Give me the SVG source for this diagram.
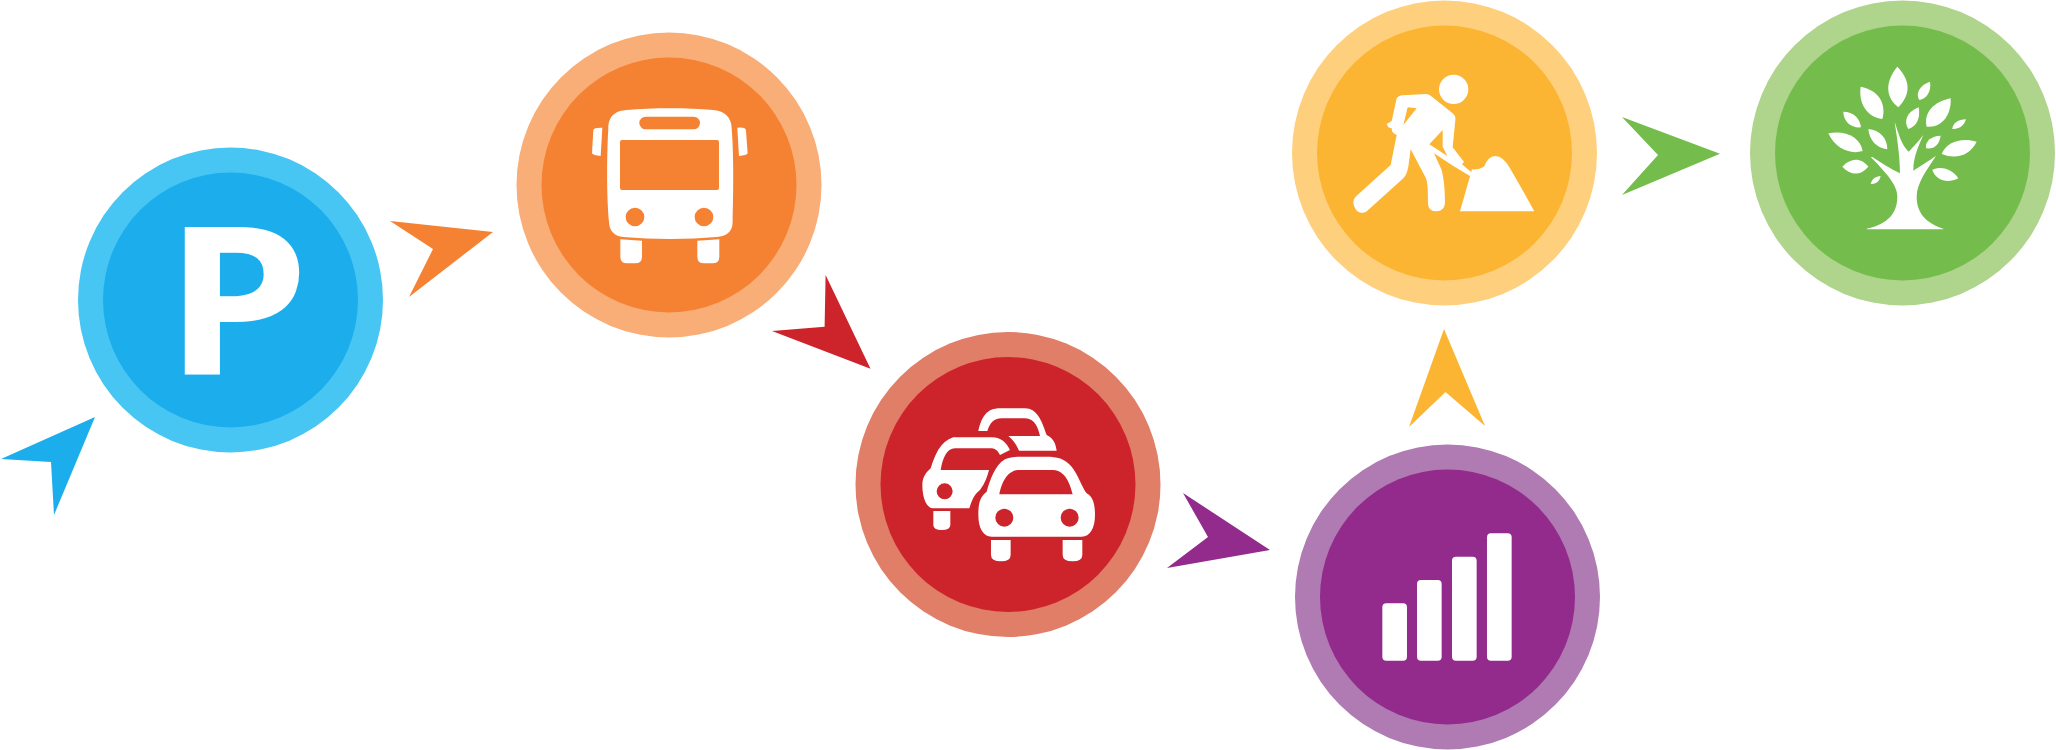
<svg xmlns="http://www.w3.org/2000/svg" width="2056" height="750" viewBox="0 0 2056 750">
<style>
.ic{fill:#fff;fill-rule:evenodd}
.bl{fill:#1CAEEC}.blo{fill:#48C6F3}
.or{fill:#F58232}.oro{fill:#F8AE76}
.re{fill:#CD242C}.reo{fill:#E07E68}
.pu{fill:#922B8C}.puo{fill:#B07AB2}
.ye{fill:#FCB532}.yeo{fill:#FED07E}
.gr{fill:#74BD4C}.gro{fill:#AFD48C}
text{font-family:"Open Sans","Liberation Sans",sans-serif;font-weight:700;font-size:207px;fill:#fff}
</style>
<rect width="2056" height="750" fill="#fff"/>
<g id="connectors">
<polygon class="bl" points="95,417 1,459 51,462 54,515"/>
<polygon class="or" points="390,221 493,232 409,297 433,249"/>
<polygon class="re" points="825.6,275 870.5,368.7 772,331 824.6,326.7"/>
<polygon class="pu" points="1183,493 1270,550 1167,568 1208,537"/>
<polygon class="ye" points="1444,329 1485,426 1445.5,392 1409,427"/>
<polygon class="gr" points="1622,117 1720,153.7 1622,195 1658,155"/>
</g>
<g id="node-parking">
<circle class="blo" cx="230.5" cy="300" r="152.5"/><circle class="bl" cx="230.5" cy="300" r="127.5"/>
<text transform="translate(164 375) scale(1.12 1)">P</text>
</g>
<g id="node-bus">
<circle class="oro" cx="669" cy="185" r="152.5"/><circle class="or" cx="669" cy="185" r="127.5"/>
<g transform="translate(580 90) scale(.3333)" class="ic">
<path d="M85,115 C85,75 110,62 140,60 C220,53 320,53 400,60 C430,62 455,80 455,115 C462,200 460,320 458,395 C458,425 440,438 410,441 C320,449 220,449 130,441 C105,438 88,425 87,395 C80,320 80,200 85,115 Z M126,150 H411 Q417,150 417,156 V294 Q417,300 411,300 H126 Q120,300 120,294 V156 Q120,150 126,150 Z M197,80 H341 A19,19 0 0 1 341,118 H197 A19,19 0 0 1 197,80 Z M137,381 A28,28 0 1 0 193,381 A28,28 0 1 0 137,381 Z M344,381 A28,28 0 1 0 400,381 A28,28 0 1 0 344,381 Z"/>
<path d="M40,120 Q42,112 67,113 L62,198 Q40,196 36,190 Z"/>
<path d="M472,113 Q498,110 498,122 L503,190 Q500,196 477,198 Z"/>
<path d="M121,448 L186,452 V500 Q186,520 165,520 H142 Q121,520 121,500 Z"/>
<path d="M352,452 L418,448 V500 Q418,520 397,520 H373 Q352,520 352,500 Z"/>
</g>
</g>
<g id="node-traffic">
<circle class="reo" cx="1008" cy="484.5" r="152.5"/><circle class="re" cx="1008" cy="484.5" r="127.5"/>
<g transform="translate(890 400) scale(.3333)" class="ic">
<path d="M265,345 C265,310 270,290 290,275 C300,240 315,195 345,178 C360,170 380,170 400,170 H470 C500,170 525,175 545,200 C565,225 575,260 590,280 C610,290 615,315 615,345 C615,385 600,410 575,410 H305 C280,410 265,385 265,345 Z M328,283 C335,250 350,212 385,210 H490 C525,212 540,250 548,283 Z M316,353 A27,27 0 1 0 370,353 A27,27 0 1 0 316,353 Z M512,353 A27,27 0 1 0 566,353 A27,27 0 1 0 512,353 Z"/>
<path d="M303,420 H362 V465 Q362,484 333,484 Q303,484 303,465 Z"/>
<path d="M518,420 H577 V465 Q577,484 548,484 Q518,484 518,465 Z"/>
<path d="M97,255 C97,235 105,220 122,205 C135,165 150,125 190,112 H305 C335,112 350,130 360,150 L330,165 C322,150 315,145 300,145 H195 C170,145 158,175 152,210 H297 C292,230 285,250 270,270 C250,285 245,305 238,325 H130 C110,325 97,295 97,255 Z M140,274 A24,24 0 1 0 188,274 A24,24 0 1 0 140,274 Z"/>
<path d="M130,333 H181 V375 Q181,390 155,390 Q130,390 130,375 Z"/>
<path d="M265,93 C275,50 290,25 330,25 H405 C440,25 455,60 470,105 C490,115 497,130 500,152 H387 C380,135 370,120 355,108 H450 C445,85 435,55 405,55 H335 C310,55 300,70 292,93 Z"/>
</g>
</g>
<g id="node-bars">
<circle class="puo" cx="1447.5" cy="597" r="152.5"/><circle class="pu" cx="1447.5" cy="597" r="127.5"/>
<g transform="translate(1360 520) scale(.3333)" class="ic">
<rect x="67" y="250" width="74" height="172" rx="12"/>
<rect x="171" y="180" width="74" height="242" rx="12"/>
<rect x="276" y="110" width="74" height="312" rx="12"/>
<rect x="381" y="40" width="74" height="382" rx="12"/>
</g>
</g>
<g id="node-works">
<circle class="yeo" cx="1444.5" cy="153" r="152.5"/><circle class="ye" cx="1444.5" cy="153" r="127.5"/>
<g transform="translate(1360 50) scale(.3333)" class="ic">
<circle cx="281" cy="118" r="44"/>
<path d="M110,145 Q115,137 128,136 L198,132 Q208,132 216,140 L278,190 Q288,198 286,210 L278,292 Q295,315 312,335 L306,343 L336,368 L330,378 L280,348 L222,310 L245,360 C252,390 255,420 255,460 Q252,485 228,484 Q205,485 204,460 C204,420 203,400 198,385 L152,298 L145,350 Q140,375 130,385 L22,482 C8,494 -10,488 -17,470 C-22,456 -20,446 -10,437 L92,345 L110,255 Q95,250 95,235 L85,232 L80,222 L95,213 Z M143,172 L170,175 L130,225 Z M248,240 L208,283 L262,318 L248,290 Z"/>
<path d="M300,484 L336,358 Q355,360 372,350 Q385,318 405,318 Q430,318 450,355 Q485,415 523,484 Z"/>
</g>
</g>
<g id="node-tree">
<circle class="gro" cx="1902.5" cy="153" r="152.5"/><circle class="gr" cx="1902.5" cy="153" r="127.5"/>
<g transform="translate(1810 50) scale(.3333)" class="ic">
<path d="M262,50 C225,95 225,140 265,172 C300,135 305,95 262,50Z"/>
<path d="M360,95 C330,105 315,130 328,150 C350,145 365,125 360,95Z"/>
<path d="M152,110 C145,160 170,200 217,207 C230,160 205,120 152,110Z"/>
<path d="M422,145 C370,155 340,190 350,230 C395,235 425,195 422,145Z"/>
<path d="M326,172 C290,185 280,215 295,237 C320,230 332,205 326,172Z"/>
<path d="M100,185 C100,215 125,235 153,232 C150,205 130,185 100,185Z"/>
<path d="M468,208 C445,208 428,220 427,237 C447,238 462,228 468,208Z"/>
<path d="M55,250 C75,295 120,315 158,303 C150,260 105,240 55,250Z"/>
<path d="M175,237 C178,270 200,295 232,298 C232,265 210,240 175,237Z"/>
<path d="M392,257 C365,258 345,272 348,295 C372,298 388,285 392,257Z"/>
<path d="M500,275 C455,262 410,275 395,312 C440,330 480,315 500,275Z"/>
<path d="M97,350 C125,320 155,325 175,350 C150,380 120,375 97,350Z"/>
<path d="M367,360 C395,345 430,360 445,385 C415,400 380,395 367,360Z"/>
<path d="M212,378 C195,380 185,388 182,402 C198,402 208,395 212,378Z"/>
<path d="M170,536 C220,525 262,500 262,440 C262,410 240,380 183,322 L186,320 C215,340 245,358 270,370 C270,320 262,270 254,215 C265,250 275,285 296,305 C310,290 325,275 340,255 C325,290 310,320 310,362 C330,350 360,330 378,318 C350,360 320,400 320,440 C320,490 350,520 400,536 L400,538 H170 Z"/>
</g>
</g>
</svg>
